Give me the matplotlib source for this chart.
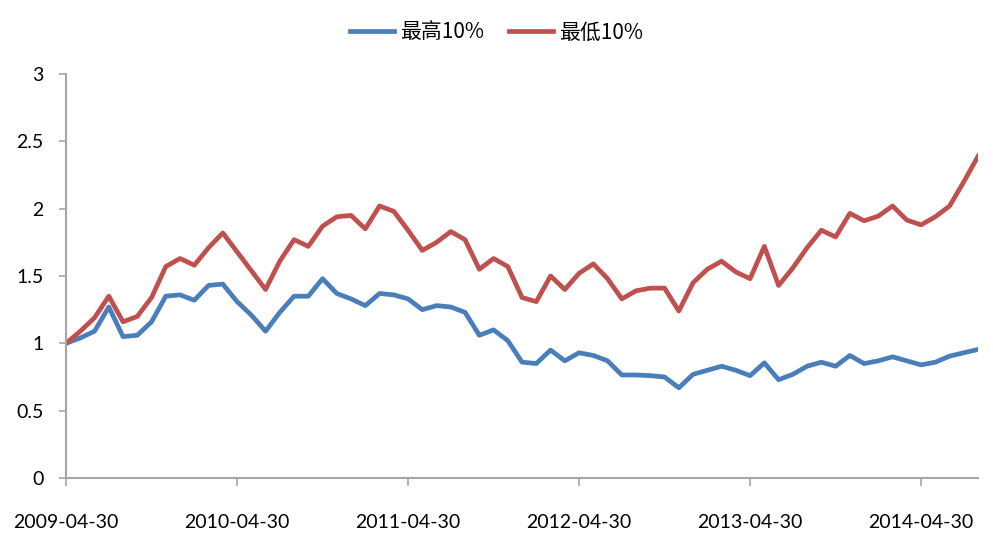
import matplotlib
matplotlib.use("Agg")
import matplotlib.pyplot as plt
import numpy as np

# 月度净值，2009-04-30 到 2014-08-31
dates = ["2009-04-30", "2010-04-30", "2011-04-30", "2012-04-30", "2013-04-30", "2014-04-30"]

top10 = [1.00, 1.04, 1.09, 1.27, 1.05, 1.06, 1.16, 1.35, 1.36, 1.32,
         1.43, 1.44, 1.31, 1.21, 1.09, 1.23, 1.35, 1.35, 1.48, 1.37,
         1.33, 1.28, 1.37, 1.36, 1.33, 1.25, 1.28, 1.27, 1.23, 1.06,
         1.10, 1.02, 0.86, 0.85, 0.95, 0.87, 0.93, 0.91, 0.87, 0.765,
         0.765, 0.76, 0.75, 0.67, 0.77, 0.80, 0.83, 0.80, 0.76, 0.855,
         0.73, 0.77, 0.83, 0.86, 0.83, 0.91, 0.85, 0.87, 0.90, 0.87,
         0.84, 0.86, 0.905, 0.93, 0.955]

bottom10 = [1.00, 1.09, 1.19, 1.35, 1.16, 1.20, 1.34, 1.57, 1.63, 1.58,
            1.71, 1.82, 1.68, 1.54, 1.40, 1.61, 1.77, 1.72, 1.87, 1.94,
            1.95, 1.85, 2.02, 1.98, 1.84, 1.69, 1.75, 1.83, 1.77, 1.55,
            1.63, 1.57, 1.34, 1.31, 1.50, 1.40, 1.52, 1.59, 1.48, 1.33,
            1.39, 1.41, 1.41, 1.24, 1.45, 1.55, 1.61, 1.53, 1.48, 1.72,
            1.43, 1.56, 1.71, 1.84, 1.79, 1.965, 1.91, 1.945, 2.02, 1.915,
            1.88, 1.94, 2.02, 2.20, 2.39]

x = np.arange(len(top10))
grey = "#A6A6A6"
num_font = ["Lato", "DejaVu Sans"]

fig = plt.figure(figsize=(9.93, 5.43), dpi=100)
ax = fig.add_axes([0.0665, 0.1197, 0.9185, 0.744])

ax.plot(x, top10, color="#4A7EBB", lw=3.4, label="最高10%", solid_joinstyle="round")
ax.plot(x, bottom10, color="#C0504D", lw=3.4, label="最低10%", solid_joinstyle="round")

ax.set_xlim(0, len(top10) - 1)
ax.set_ylim(0, 3)

ax.set_yticks([0, 0.5, 1, 1.5, 2, 2.5, 3])
ax.set_yticklabels(["0", "0.5", "1", "1.5", "2", "2.5", "3"], family=num_font, fontsize=14)
ax.set_xticks(np.arange(0, len(top10), 12))
ax.set_xticklabels(dates, family=num_font, fontsize=14)

for s in ["top", "right"]:
    ax.spines[s].set_visible(False)
for s in ["left", "bottom"]:
    ax.spines[s].set_color(grey)
    ax.spines[s].set_linewidth(1.5)

ax.tick_params(axis="y", length=5, width=1.2, color=grey, pad=11)
ax.tick_params(axis="x", length=6, width=1.2, color=grey, pad=20)

leg = fig.legend(loc="upper center", bbox_to_anchor=(0.5, 0.995), ncol=2, frameon=False,
                 prop={"family": ["Noto Sans CJK SC", "DejaVu Sans"], "size": 15},
                 handlelength=2.1, columnspacing=1.2, handletextpad=0.3)

fig.savefig("out.png", dpi=100)
